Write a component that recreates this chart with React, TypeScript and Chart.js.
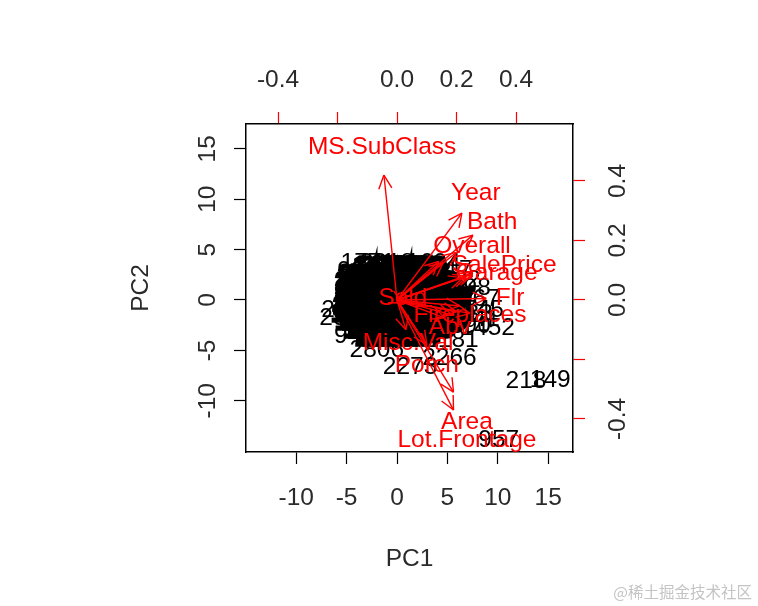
import React, { useEffect, useRef } from "react";
import { Chart, registerables } from "chart.js";

Chart.register(...registerables);

const pcTicks = [-10, -5, 0, 5, 10, 15];
const pcLabels = ["-10", "-5", "0", "5", "10", "15"];
const loadingTicks = [-0.4, -0.2, 0, 0.2, 0.4];
const loadingLabels = ["-0.4", "", "0.0", "0.2", "0.4"];

// Observations in the dense middle, one list of PC1 values per PC2 row
const obsRowY = [3.2, 2.5, 1.8, 1.0, 0.2, -0.6, -1.4, -2.2, -3.0, -3.8];
const obsRowX = [
  [-1.6, -0.9, -0.2, 0.5, 1.2, 1.8, 2.2],
  [-3.1, -2.4, -1.7, -1.0, -0.3, 0.4, 1.1, 1.8, 2.5],
  [-3.4, -2.6, -1.9, -1.2, -0.5, 0.2, 0.9, 1.6, 2.3, 3.0, 3.4],
  [-3.4, -2.7, -2.0, -1.3, -0.6, 0.1, 0.8, 1.5, 2.2, 2.9, 3.6, 4.1],
  [-3.4, -2.7, -2.0, -1.2, -0.5, 0.2, 0.9, 1.6, 2.3, 3.0, 3.7, 4.5, 5.0],
  [-3.6, -2.9, -2.1, -1.4, -0.7, 0.0, 0.8, 1.5, 2.2, 2.9, 3.7, 4.4, 5.0],
  [-3.8, -3.0, -2.3, -1.5, -0.8, 0.0, 0.7, 1.4, 2.2, 2.9, 3.7, 4.4, 4.9],
  [-3.4, -2.7, -2.0, -1.3, -0.6, 0.1, 0.8, 1.5, 2.2, 2.9, 3.5, 4.2],
  [-2.6, -1.9, -1.2, -0.5, 0.2, 0.9, 1.6, 2.3, 3.0],
  [-1.4, -0.7, 0.0, 0.7, 1.5],
];
const obsIds = ["1452", "2806", "1183", "2947", "2571", "1368", "1629", "2044", "1735", "2390", "1876", "1512"];

// Observations that stand on their own at the rim or outside, with their own text
const outlierIds = ["218", "149", "957", "2266", "2273", "2806", "94", "1452", "2181", "2930", "2651", "936", "1771", "2218", "1498", "1067", "2745", "1341", "1890", "1202", "2517", "1604", "1933"];
const outlierX = [12.8, 15.2, 10.1, 5.2, 1.3, -2.0, -4.9, 9.0, 5.4, -5.0, -4.8, -3.9, -2.9, -1.0, 6.6, 7.5, 7.9, 7.5, 6.6, 5.6, 4.8, 3.6, 6.8];
const outlierY = [-8.1, -8.0, -13.9, -5.8, -6.7, -5.0, -3.6, -2.8, -4.0, -1.8, -1.0, 2.9, 3.6, 3.6, 1.2, 0.1, -1.0, -1.9, -2.6, 2.0, 3.0, 3.6, -1.4];

// Loadings: arrow ends on the upper and right axes, and where the names sit
const varNames = ["MS.SubClass", "Year", "Bath", "Overall", "SalePrice", "Garage", "Flr", "Fireplaces", "Abv", "Misc.Val", "Porch", "Area", "Lot.Frontage", "Sold", "", "", "", "", "", "", ""];
const varX = [-0.044, 0.218, 0.255, 0.2, 0.255, 0.25, 0.3, 0.245, 0.16, 0.03, 0.1, 0.19, 0.19, 0.02, 0.22, 0.2, 0.21, 0.14, 0.155, 0.235, 0.185];
const varY = [0.42, 0.292, 0.218, 0.16, 0.09, 0.085, 0.005, -0.045, -0.06, -0.1, -0.15, -0.37, -0.31, -0.01, 0.075, -0.04, -0.02, 0.13, 0.125, 0.08, -0.05];
const nameX = [-0.05, 0.265, 0.32, 0.252, 0.36, 0.335, 0.38, 0.245, 0.178, 0.037, 0.1, 0.235, 0.235, 0.02];
const nameY = [0.515, 0.36, 0.26, 0.18, 0.117, 0.09, 0.007, -0.052, -0.09, -0.145, -0.22, -0.41, -0.47, 0.007];

const FONT = "Liberation Sans, Arial, sans-serif";
const FS = 24.5;
const RED = "#ff0000";
const INK = "#2a2a2a";

const clipToArea = (chart: any) => {
  const { ctx, chartArea: a } = chart;
  ctx.beginPath();
  ctx.rect(a.left, a.top, a.right - a.left, a.bottom - a.top);
  ctx.clip();
  ctx.textAlign = "center";
  ctx.textBaseline = "middle";
  ctx.font = `${FS}px ${FONT}`;
};

const biplotMarks = {
  id: "biplotMarks",
  beforeDatasetsDraw(chart: any) {
    const { ctx, scales } = chart;
    ctx.save();
    clipToArea(chart);
    ctx.fillStyle = "#000";
    ctx.strokeStyle = "#000";
    ctx.lineWidth = 3.5;
    chart.data.datasets[0].data.forEach((p: any) => {
      const px = scales.x.getPixelForValue(p.x);
      const py = scales.y.getPixelForValue(p.y);
      if (p.core) ctx.strokeText(p.id, px, py);
      ctx.fillText(p.id, px, py);
    });
    ctx.restore();
  },
  afterDatasetsDraw(chart: any) {
    const { ctx, scales } = chart;
    ctx.save();
    clipToArea(chart);
    chart.data.datasets.forEach((ds: any, i: number) => {
      if (i === 0) return;
      const o = ds.data[0];
      const t = ds.data[1];
      const x0 = scales.x2.getPixelForValue(o.x);
      const y0 = scales.y2.getPixelForValue(o.y);
      const x1 = scales.x2.getPixelForValue(t.x);
      const y1 = scales.y2.getPixelForValue(t.y);
      const ang = Math.atan2(y1 - y0, x1 - x0);
      ctx.strokeStyle = RED;
      ctx.lineWidth = 1.4;
      ctx.beginPath();
      [-0.45, 0.45].forEach((d) => {
        ctx.moveTo(x1, y1);
        ctx.lineTo(x1 - 15 * Math.cos(ang + d), y1 - 15 * Math.sin(ang + d));
      });
      ctx.stroke();
    });
    ctx.fillStyle = RED;
    nameX.forEach((x, i) => {
      ctx.fillText(varNames[i], scales.x2.getPixelForValue(x), scales.y2.getPixelForValue(nameY[i]));
    });
    ctx.restore();
  },
};

export default function App() {
  const ref = useRef<HTMLCanvasElement>(null);
  useEffect(() => {
    const obs: any[] = [];
    let n = 0;
    obsRowX.forEach((row, r) =>
      row.forEach((x) => {
        obs.push({ x, y: obsRowY[r], id: obsIds[n % obsIds.length], core: true });
        n += 1;
      })
    );
    outlierIds.forEach((id, i) => obs.push({ x: outlierX[i], y: outlierY[i], id, core: false }));

    const axis = (
      position: string,
      ticks: number[],
      labels: string[],
      min: number,
      max: number,
      size: number,
      tickColor: string,
      padding: number,
      title?: any
    ) => {
      const vertical = position === "left" || position === "right";
      return {
        type: "linear",
        position,
        min,
        max,
        afterBuildTicks: (s: any) => {
          s.ticks = ticks.map((value) => ({ value }));
        },
        afterFit: (s: any) => {
          if (vertical) s.width = size;
          else s.height = size;
        },
        border: { display: true, color: "#000", width: 1.5 },
        grid: { drawOnChartArea: false, drawTicks: true, tickLength: 12, tickColor, tickWidth: 1.2 },
        ticks: {
          color: INK,
          padding,
          autoSkip: false,
          font: { family: FONT, size: FS },
          minRotation: vertical ? 90 : 0,
          maxRotation: vertical ? 90 : 0,
          crossAlign: vertical ? "center" : "near",
          callback: (_v: number, i: number) => labels[i],
        },
        title: title ?? { display: false },
      };
    };

    const chart = new Chart(ref.current as HTMLCanvasElement, {
      type: "scatter",
      plugins: [biplotMarks],
      data: {
        datasets: [
          { label: "obs", data: obs, pointRadius: 0, showLine: false, xAxisID: "x", yAxisID: "y" },
          ...varX.map((x, i) => ({
            label: varNames[i] || `v${i}`,
            data: [
              { x: 0, y: 0 },
              { x, y: varY[i] },
            ],
            xAxisID: "x2",
            yAxisID: "y2",
            showLine: true,
            borderColor: RED,
            borderWidth: 1.4,
            pointRadius: 0,
          })),
        ],
      },
      options: {
        responsive: false,
        animation: false,
        layout: { padding: 0 },
        plugins: { legend: { display: false }, tooltip: { enabled: false } },
        scales: {
          x: axis("bottom", pcTicks, pcLabels, -14.98, 17.46, 154, "#000", 20, {
            display: true,
            text: "PC1",
            color: INK,
            font: { family: FONT, size: FS },
            padding: { top: 0, bottom: 32 },
          }),
          y: axis("left", pcTicks, pcLabels, -15.08, 17.46, 246, "#000", 8, {
            display: true,
            text: "PC2",
            color: INK,
            font: { family: FONT, size: FS },
            padding: { top: 127, bottom: 0 },
          }),
          x2: axis("top", loadingTicks, loadingLabels, -0.5076, 0.5916, 124, RED, 17),
          y2: axis("right", loadingTicks, loadingLabels, -0.511, 0.5916, 185, RED, 12),
        },
      } as any,
    } as any);
    return () => chart.destroy();
  }, []);

  return (
    <div style={{ position: "fixed", left: 0, top: 0, width: 758, height: 606, background: "#fff", overflow: "hidden" }}>
      <canvas ref={ref} width={758} height={606} style={{ display: "block", filter: "blur(0.55px)" }} />
      <div
        style={{
          position: "absolute",
          right: 6,
          top: 580,
          fontFamily: "'Noto Sans CJK SC', sans-serif",
          fontSize: 15.5,
          color: "#c4c4c4",
          whiteSpace: "nowrap",
        }}
      >
        @稀土掘金技术社区
      </div>
    </div>
  );
}
